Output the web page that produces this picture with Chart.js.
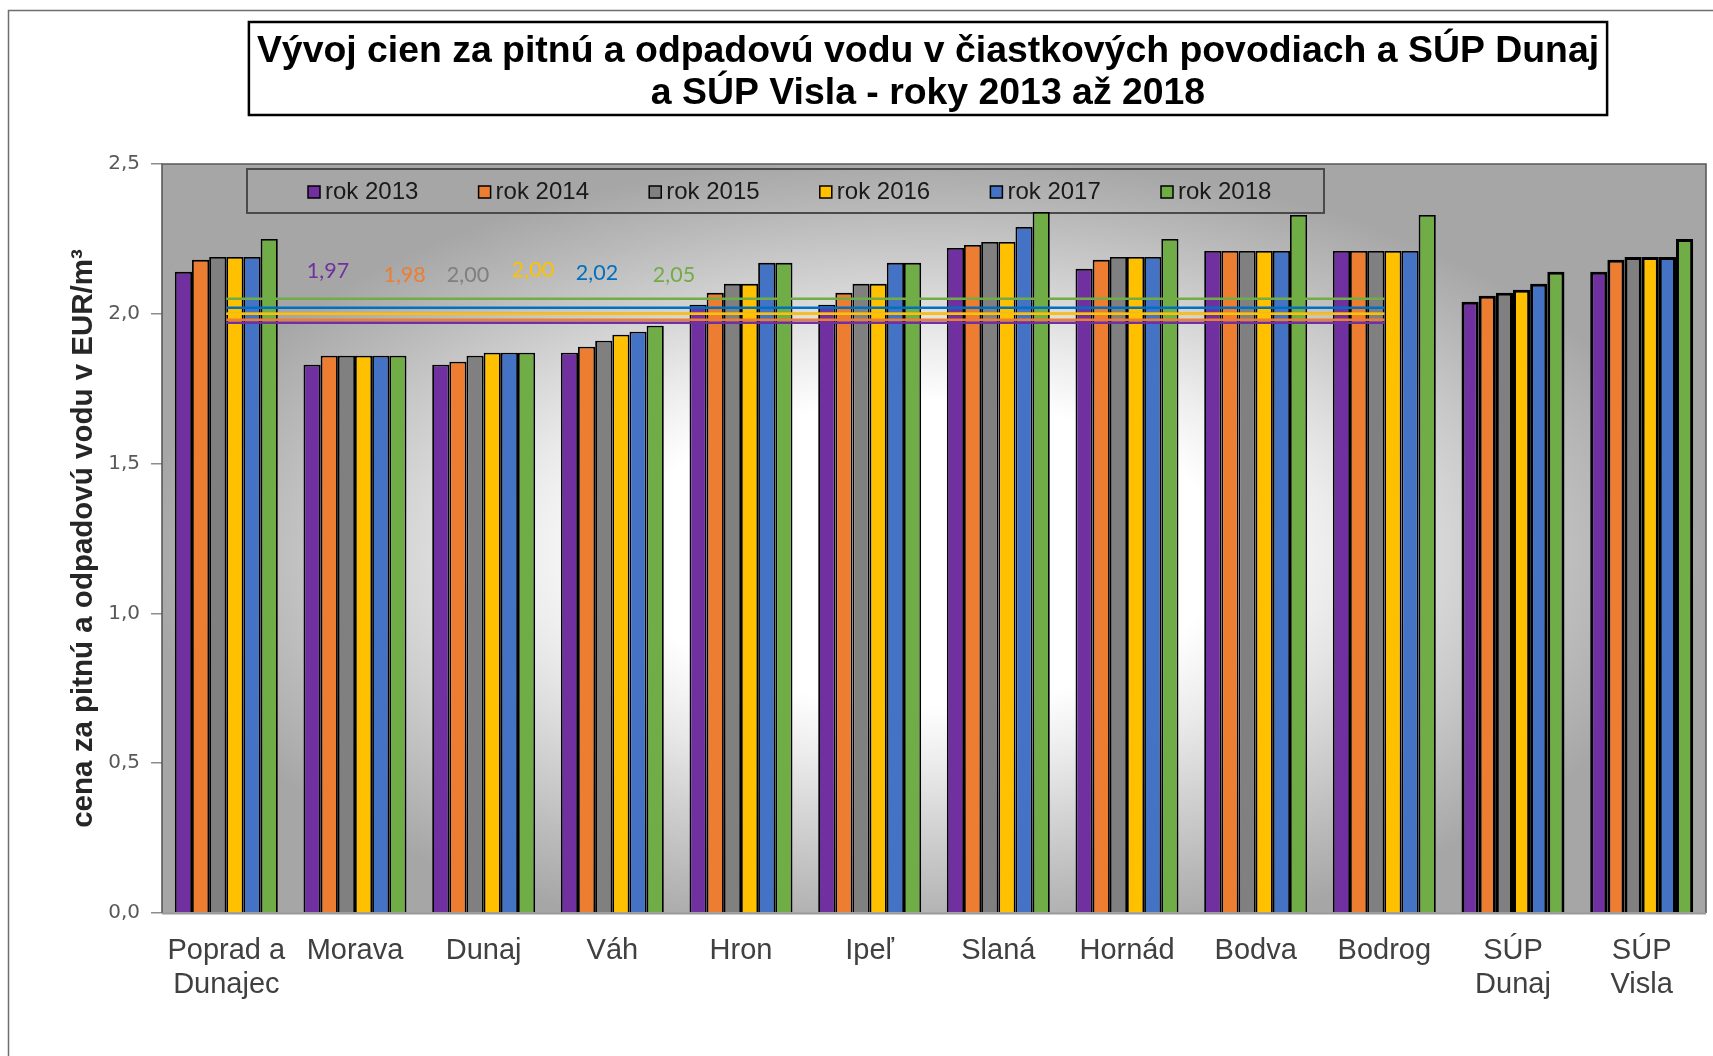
<!DOCTYPE html>
<html>
<head>
<meta charset="utf-8">
<script src="https://cdn.jsdelivr.net/npm/chart.js@4.4.1/dist/chart.umd.min.js"></script>
<style>
  html, body { margin: 0; padding: 0; background: #ffffff; }
  #wrap { width: 1713px; height: 1056px; position: relative; }
  canvas { display: block; }
</style>
</head>
<body>
<div id="wrap"><canvas id="c" width="1713" height="1056"></canvas></div>
<script>
// Categories: sub-basins and the two river-basin districts (SÚP)
const categories = [['Poprad a', 'Dunajec'], 'Morava', 'Dunaj', 'Váh', 'Hron', 'Ipeľ', 'Slaná', 'Hornád', 'Bodva', 'Bodrog', ['SÚP', 'Dunaj'], ['SÚP', 'Visla']];
const seriesNames = ['rok 2013', 'rok 2014', 'rok 2015', 'rok 2016', 'rok 2017', 'rok 2018'];

// Price for drinking + waste water, EUR/m3
const y2013 = [2.14, 1.83, 1.83, 1.87, 2.03, 2.03, 2.22, 2.15, 2.21, 2.21, 2.04, 2.14];
const y2014 = [2.18, 1.86, 1.84, 1.89, 2.07, 2.07, 2.23, 2.18, 2.21, 2.21, 2.06, 2.18];
const y2015 = [2.19, 1.86, 1.86, 1.91, 2.10, 2.10, 2.24, 2.19, 2.21, 2.21, 2.07, 2.19];
const y2016 = [2.19, 1.86, 1.87, 1.93, 2.10, 2.10, 2.24, 2.19, 2.21, 2.21, 2.08, 2.19];
const y2017 = [2.19, 1.86, 1.87, 1.94, 2.17, 2.17, 2.29, 2.19, 2.21, 2.21, 2.10, 2.19];
const y2018 = [2.25, 1.86, 1.87, 1.96, 2.17, 2.17, 2.34, 2.25, 2.33, 2.33, 2.14, 2.25];

// Yearly averages over the sub-basins (horizontal lines)
const averages = [1.97, 1.98, 2.00, 2.00, 2.02, 2.05];
const basinCount = 10;

const yTickLabels = ['0,0', '0,5', '1,0', '1,5', '2,0', '2,5'];
const titleLines = ['Vývoj cien za pitnú a odpadovú vodu v čiastkových povodiach a SÚP Dunaj', 'a SÚP Visla - roky 2013 až 2018'];
const yAxisTitle = 'cena za pitnú a odpadovú vodu v EUR/m³';

const seriesValues = [y2013, y2014, y2015, y2016, y2017, y2018];
const barColors = ['#7030A0', '#ED7D31', '#808080', '#FFC000', '#4472C4', '#70AD47'];
const avgLineColors = ['#7030A0', '#ED7D31', '#A5A5A5', '#FFC000', '#0070C0', '#70AD47'];
const avgTextColors = ['#7030A0', '#ED7D31', '#7F7F7F', '#FFC000', '#0070C0', '#70AD47'];

const fmt = v => v.toFixed(2).replace('.', ',');

const barDatasets = seriesNames.map((name, i) => ({
  type: 'bar',
  label: name,
  data: seriesValues[i],
  backgroundColor: barColors[i],
  borderColor: '#000000',
  borderWidth: c => (c.dataIndex >= basinCount ? 3 : 1.8),
  borderSkipped: 'bottom',
  categoryPercentage: 0.8,
  barPercentage: 1.0,
  order: 2
}));

const lineDatasets = averages.map((v, i) => ({
  type: 'line',
  label: 'priemer ' + seriesNames[i],
  data: categories.map((_, j) => (j < basinCount ? v : null)),
  borderColor: avgLineColors[i],
  borderWidth: 2.6,
  pointRadius: 0,
  pointHoverRadius: 0,
  fill: false,
  tension: 0,
  order: i === 3 ? 0 : 1
}));

// Page background, outer frame, plot gradient, title box
const backdrop = {
  id: 'backdrop',
  beforeDraw(chart) {
    const { ctx, chartArea: a } = chart;
    ctx.save();
    ctx.fillStyle = '#ffffff';
    ctx.fillRect(0, 0, chart.width, chart.height);

    // outer chart frame (left and top edges)
    ctx.strokeStyle = '#6e6e6e';
    ctx.lineWidth = 1.5;
    ctx.beginPath();
    ctx.moveTo(8.5, chart.height + 2);
    ctx.lineTo(8.5, 10.5);
    ctx.lineTo(chart.width + 2, 10.5);
    ctx.stroke();

    // plot area: elliptical radial gradient
    const cx = a.left + a.width / 2 - 10;
    const cy = a.top + a.height * 0.52;
    const rx = 780, ry = 400, s = rx / ry;
    ctx.save();
    ctx.beginPath();
    ctx.rect(a.left, a.top, a.width, a.height);
    ctx.clip();
    ctx.translate(cx, cy);
    ctx.scale(s, 1);
    const g = ctx.createRadialGradient(0, 0, 0, 0, 0, ry);
    g.addColorStop(0, '#ffffff');
    g.addColorStop(0.38, '#ffffff');
    g.addColorStop(0.53, '#ebebeb');
    g.addColorStop(0.69, '#d2d2d2');
    g.addColorStop(0.86, '#b9b9b9');
    g.addColorStop(1, '#a6a6a6');
    ctx.fillStyle = g;
    ctx.fillRect((a.left - cx) / s, a.top - cy, a.width / s, a.height);
    ctx.restore();
    ctx.restore();
  },
  afterDraw(chart) {
    const { ctx, chartArea: a } = chart;
    ctx.save();
    const tx = a.left + a.width / 2 - 6;
    ctx.font = "bold 37.4px 'Liberation Sans', Arial, sans-serif";
    const w = Math.max(...titleLines.map(t => ctx.measureText(t).width));
    const bx = tx - w / 2 - 8, bw = w + 16;
    ctx.strokeStyle = '#000000';
    ctx.lineWidth = 2.5;
    ctx.strokeRect(bx, 22, bw, 93);
    ctx.fillStyle = '#000000';
    ctx.textAlign = 'center';
    ctx.textBaseline = 'middle';
    titleLines.forEach((t, i) => ctx.fillText(t, tx, 52 + i * 42));
    ctx.restore();
  }
};

// Boxed legend inside the plot + labels of the average lines
const boxLegend = {
  id: 'boxLegend',
  beforeDatasetsDraw(chart) {
    const { ctx, chartArea: a } = chart;
    ctx.save();
    const box = { x: a.left + 85, y: a.top + 5, w: 1077, h: 44 };
    ctx.strokeStyle = '#4a4a4a';
    ctx.lineWidth = 2;
    ctx.strokeRect(box.x, box.y, box.w, box.h);
    ctx.font = "24px 'Liberation Sans', Arial, sans-serif";
    ctx.textBaseline = 'middle';
    ctx.textAlign = 'left';
    chart.data.datasets.filter(d => d.type === 'bar').forEach((d, i) => {
      const mx = box.x + 61 + i * 170.6;
      const my = box.y + box.h / 2 + 1;
      ctx.fillStyle = d.backgroundColor;
      ctx.fillRect(mx, my - 6, 12, 12);
      ctx.strokeStyle = '#000000';
      ctx.lineWidth = 1.5;
      ctx.strokeRect(mx, my - 6, 12, 12);
      ctx.fillStyle = '#1a1a1a';
      ctx.fillText(d.label, mx + 17, my);
    });

    // value labels of the average lines
    const offX = [166, 242.6, 306, 371, 435, 512];
    const offY = [107.5, 110.8, 110.8, 106.3, 109, 110.8];
    ctx.font = "21.5px Lato, 'Open Sans', sans-serif";
    ctx.textAlign = 'center';
    averages.forEach((v, i) => {
      ctx.fillStyle = avgTextColors[i];
      ctx.fillText(fmt(v), a.left + offX[i], a.top + offY[i]);
    });
    ctx.restore();
  },
  afterDatasetsDraw(chart) {
    const { ctx, chartArea: a } = chart;
    ctx.save();
    // plot frame
    ctx.strokeStyle = '#5a5a5a';
    ctx.lineWidth = 1.6;
    ctx.beginPath();
    ctx.moveTo(a.left, a.bottom);
    ctx.lineTo(a.left, a.top);
    ctx.lineTo(a.right, a.top);
    ctx.lineTo(a.right, a.bottom);
    ctx.stroke();
    ctx.strokeStyle = '#9a9a9a';
    ctx.lineWidth = 2;
    ctx.beginPath();
    ctx.moveTo(a.left, a.bottom + 0.5);
    ctx.lineTo(a.right, a.bottom + 0.5);
    ctx.stroke();
    ctx.restore();
  }
};

new Chart(document.getElementById('c'), {
  type: 'bar',
  data: { labels: categories, datasets: [...barDatasets, ...lineDatasets] },
  options: {
    responsive: false,
    animation: false,
    devicePixelRatio: 1,
    layout: { padding: { left: 0, top: 164, right: 7, bottom: 0 } },
    plugins: {
      legend: { display: false },
      title: { display: false },
      tooltip: { enabled: false }
    },
    scales: {
      x: {
        offset: true,
        grid: { display: false, drawTicks: false },
        border: { display: false },
        ticks: {
          autoSkip: false,
          maxRotation: 0,
          padding: 21,
          color: '#404040',
          font: { family: "'Liberation Sans', Arial, sans-serif", size: 29, lineHeight: 1.17 }
        },
        afterFit(scale) { scale.height = 143; }
      },
      y: {
        min: 0,
        max: 2.5,
        ticks: {
          stepSize: 0.5,
          padding: 11,
          color: '#595959',
          font: { family: "'DejaVu Sans', Verdana, sans-serif", size: 20 },
          callback: (v, i) => yTickLabels[i]
        },
        grid: { drawOnChartArea: false, drawTicks: true, tickLength: 11, color: '#8c8c8c', lineWidth: 1.5 },
        border: { display: false },
        title: {
          display: true,
          text: yAxisTitle,
          color: '#262626',
          font: { family: "'Liberation Sans', Arial, sans-serif", size: 29.5, weight: 'bold' },
          padding: { top: 66, bottom: 0 }
        },
        afterFit(scale) { scale.width = 162; }
      }
    }
  },
  plugins: [backdrop, boxLegend]
});
</script>
</body>
</html>
